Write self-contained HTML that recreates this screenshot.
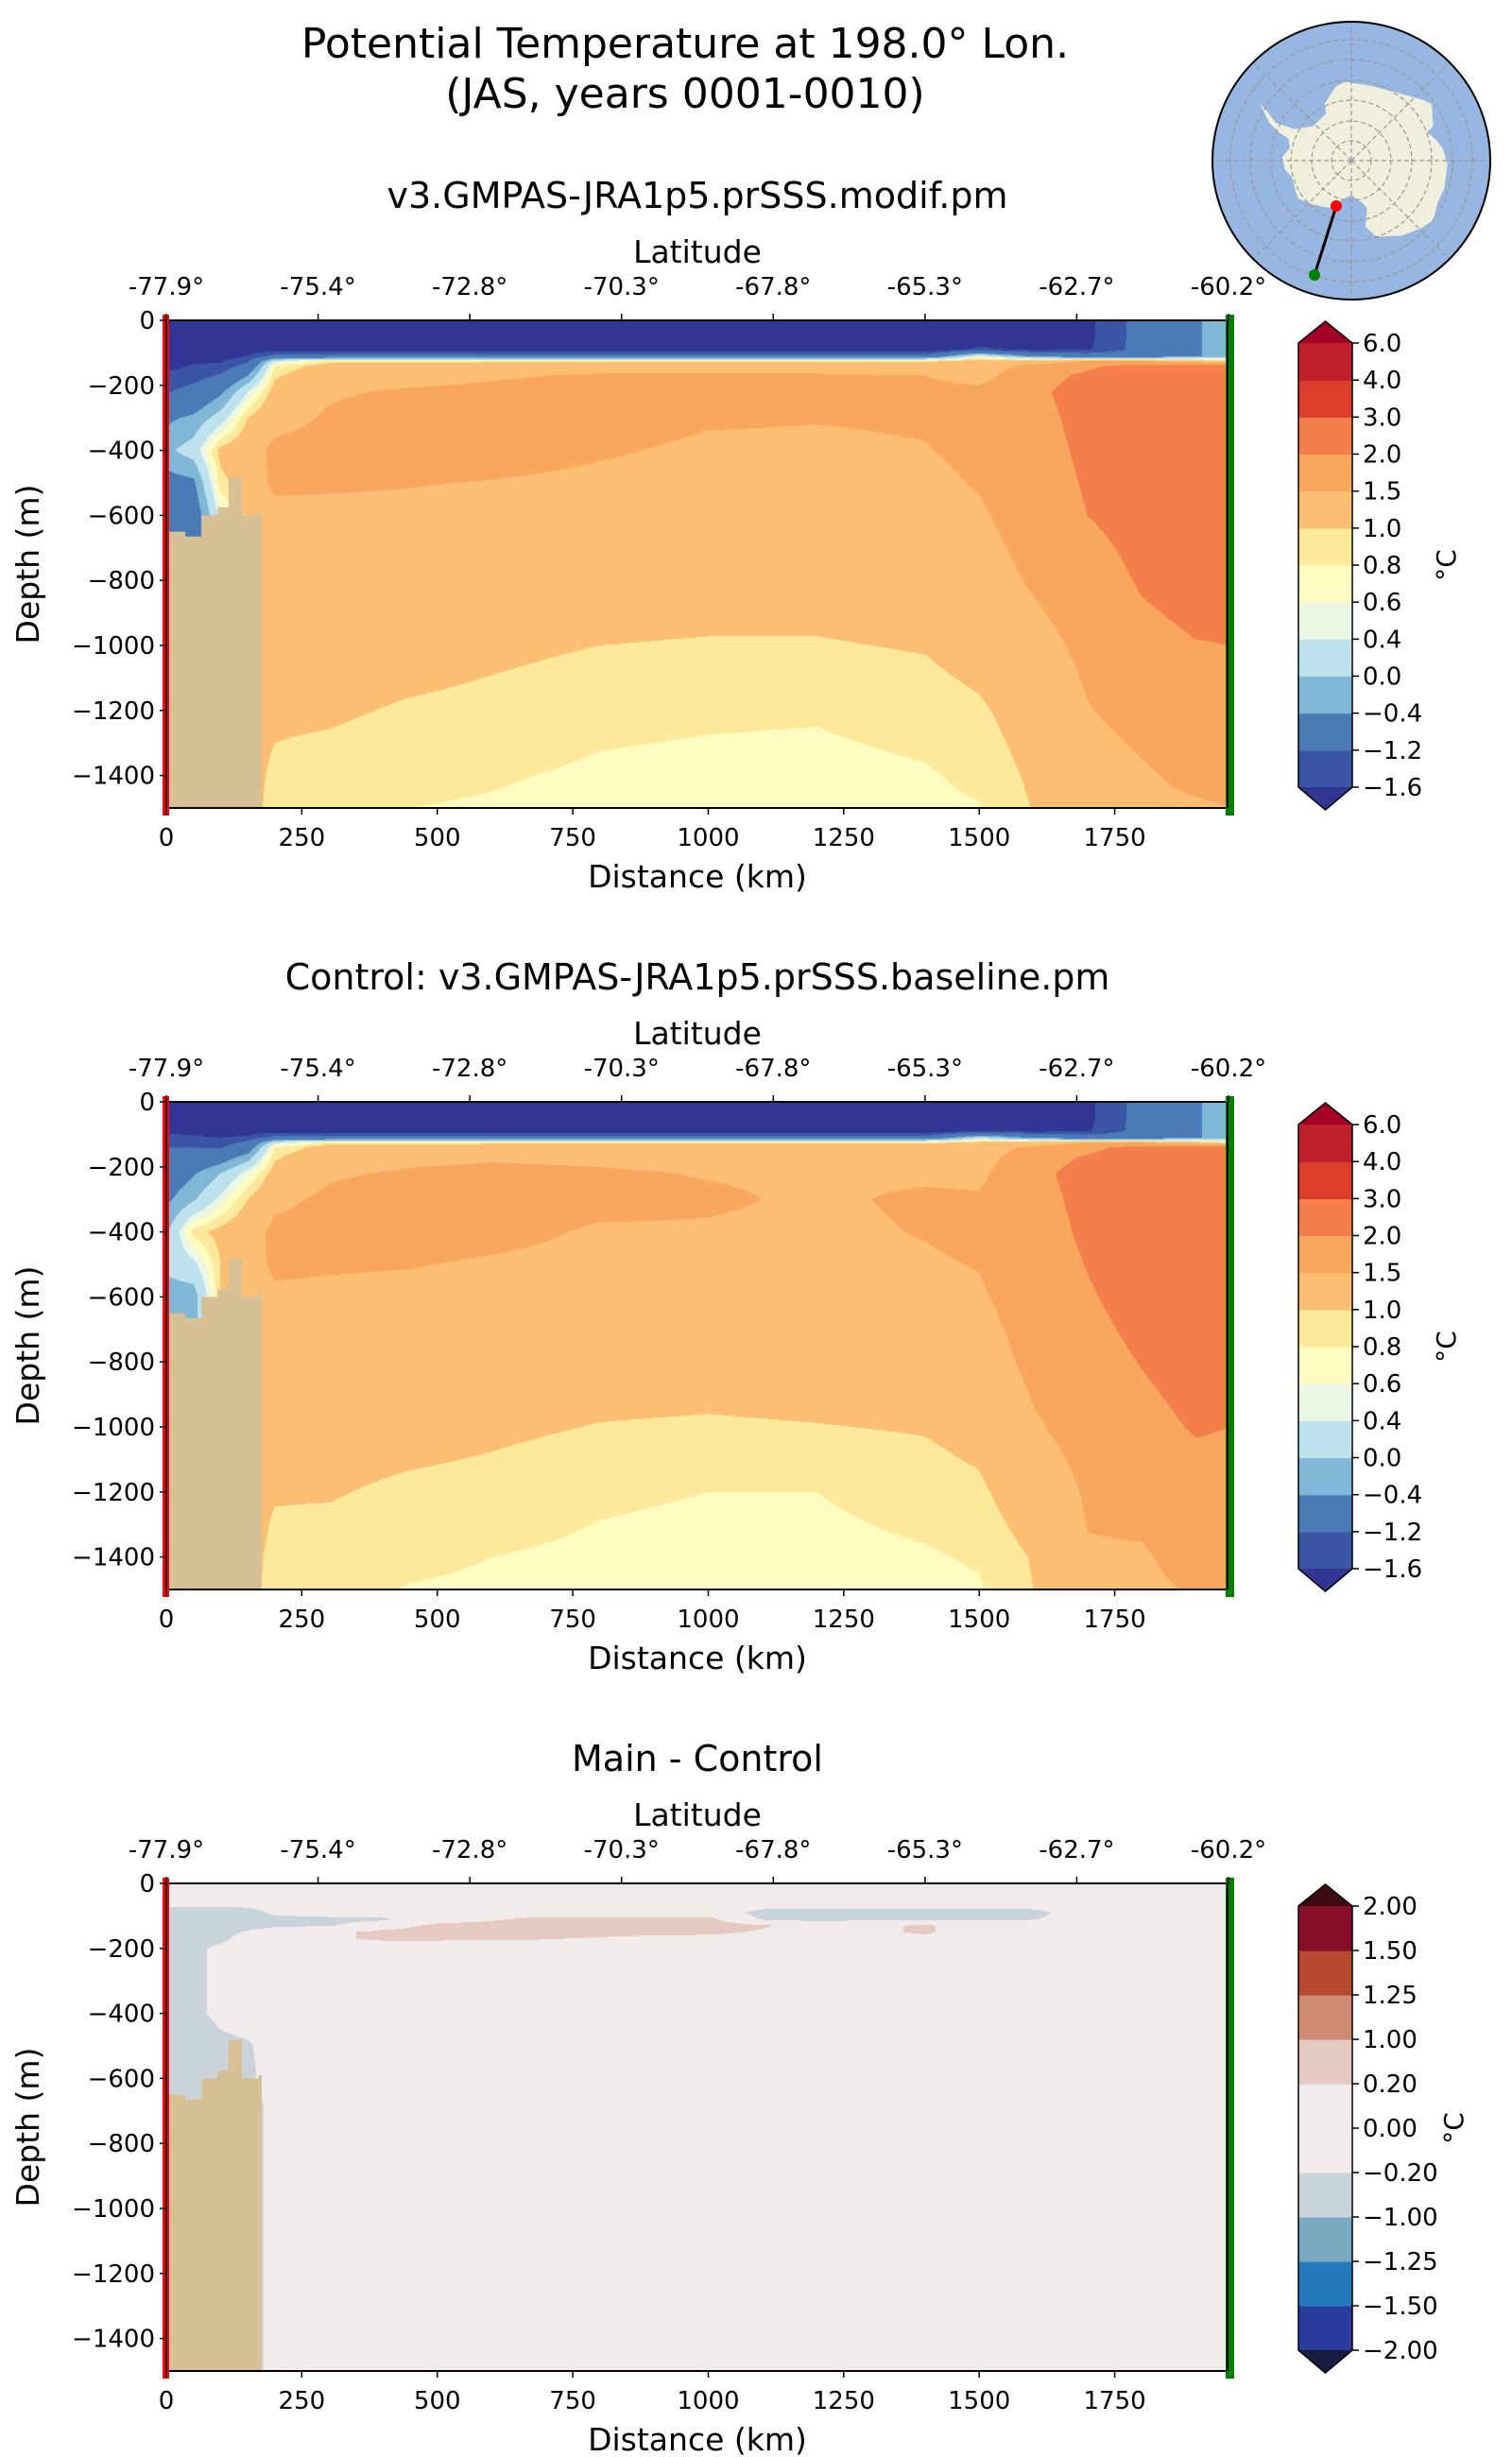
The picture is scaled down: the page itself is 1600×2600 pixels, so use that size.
<!DOCTYPE html>
<html>
<head>
<meta charset="utf-8">
<style>
html,body{margin:0;padding:0;background:#fff;}
#root{position:relative;width:1600px;height:2600px;overflow:hidden;background:#fff;}
canvas{position:absolute;}
#svg{position:absolute;left:0;top:0;}
text{font-family:"DejaVu Sans","Liberation Sans",sans-serif;fill:#000;}
</style>
</head>
<body>
<div id="root">
<canvas id="c0" width="1124" height="517" style="left:176px;top:339px"></canvas>
<canvas id="c1" width="1124" height="517" style="left:176px;top:1166px"></canvas>
<canvas id="c2" width="1124" height="517" style="left:176px;top:1993px"></canvas>
<svg id="svg" width="1600" height="2600" xmlns="http://www.w3.org/2000/svg">
<text x="725" y="61" font-size="44" text-anchor="middle">Potential Temperature at 198.0° Lon.</text>
<text x="725" y="114" font-size="44" text-anchor="middle">(JAS, years 0001-0010)</text>
<g id="mapg"></g>
</svg>
</div>
<script>
// ---- data ----
const distanceNodes = [0,50,100,150,200,300,450,600,800,1000,1200,1400,1500,1600,1700,1800,1900,1960];
const depthNodes = [0,50,90,110,125,140,170,220,300,400,500,600,800,1000,1200,1400,1500];
// temperature profiles (one per distance node, values at depthNodes), modif run
const mainTemp = [
[-2,-2,-2,-2,-1.9,-1.75,-1.5,-1.25,-0.5,-0.1,-0.6,-0.8,-0.8,-0.8,-0.8,-0.8,-0.8],
[-2,-2,-2,-1.9,-1.7,-1.55,-1.4,-1.0,-0.3,0.2,-0.5,-0.8,-0.8,-0.8,-0.8,-0.8,-0.8],
[-2,-2,-2,-1.8,-1.65,-1.5,-1.15,-0.5,0.2,1.1,0.9,0.5,0.5,0.5,0.5,0.5,0.5],
[-2,-2,-1.9,-1.6,-1.3,-1.0,-0.4,0.4,1.0,1.3,1.2,1.1,1.1,1.1,1.1,1.1,1.1],
[-2,-2,-1.8,-1.0,0.3,0.8,0.95,1.15,1.35,1.6,1.6,1.35,1.25,1.15,1.05,0.95,0.92],
[-2,-2,-1.9,-1.0,0.9,1.15,1.3,1.45,1.55,1.65,1.55,1.4,1.25,1.15,1.04,0.9,0.86],
[-2,-2,-1.9,-1.0,0.9,1.2,1.35,1.55,1.7,1.7,1.52,1.4,1.25,1.12,0.97,0.85,0.8],
[-2,-2,-1.9,-1.0,0.9,1.25,1.45,1.6,1.75,1.7,1.48,1.38,1.22,1.06,0.93,0.82,0.78],
[-2,-2,-1.9,-1.0,0.9,1.3,1.55,1.7,1.7,1.55,1.4,1.3,1.15,1.0,0.85,0.77,0.74],
[-2,-2,-1.9,-1.0,0.9,1.3,1.55,1.65,1.55,1.42,1.35,1.28,1.12,0.98,0.83,0.75,0.72],
[-2,-2,-1.9,-1.0,0.9,1.3,1.55,1.65,1.52,1.42,1.36,1.3,1.12,0.98,0.82,0.74,0.72],
[-2,-2,-1.9,-1.0,0.9,1.25,1.5,1.6,1.55,1.48,1.4,1.35,1.18,1.02,0.88,0.78,0.76],
[-2,-1.95,-1.5,0.5,1.2,1.3,1.35,1.6,1.65,1.6,1.53,1.45,1.3,1.12,0.96,0.84,0.79],
[-2,-2,-1.7,-0.5,1.2,1.6,1.8,1.9,1.85,1.8,1.75,1.7,1.55,1.35,1.15,1.05,1.01],
[-1.7,-1.7,-1.65,-0.8,1.5,1.9,2.1,2.2,2.15,2.1,2.05,2.0,1.75,1.6,1.48,1.3,1.2],
[-1.0,-1.0,-1.0,-0.8,1.5,2.2,2.4,2.5,2.45,2.4,2.3,2.2,2.05,1.85,1.65,1.45,1.4],
[-0.45,-0.45,-0.45,-0.45,1.2,2.3,2.5,2.6,2.55,2.5,2.45,2.35,2.2,1.98,1.8,1.6,1.45],
[-0.2,-0.2,-0.2,-0.2,1.0,2.3,2.6,2.7,2.65,2.55,2.5,2.4,2.2,2.0,1.8,1.6,1.5]
];
// control run
const controlTemp = [
[-2,-2,-1.65,-1.5,-1.3,-1.2,-1.0,-0.8,-0.5,-0.05,0.1,-0.2,-0.3,-0.3,-0.3,-0.3,-0.3],
[-2,-2,-1.7,-1.55,-1.4,-1.2,-0.9,-0.45,-0.05,0.9,0.3,-0.2,-0.2,-0.2,-0.2,-0.2,-0.2],
[-2,-2,-1.8,-1.6,-1.45,-1.25,-0.7,0.0,0.5,1.1,1.0,1.0,1.0,1.0,1.0,1.0,1.0],
[-2,-2,-1.85,-1.5,-1.1,-0.8,-0.2,0.55,1.0,1.3,1.25,1.1,1.1,1.1,1.1,1.1,1.1],
[-2,-2,-1.8,-1.0,0.3,0.8,0.95,1.15,1.4,1.6,1.6,1.4,1.25,1.12,1.02,0.93,0.9],
[-2,-2,-1.9,-1.0,0.9,1.15,1.3,1.45,1.58,1.65,1.55,1.4,1.25,1.12,1.02,0.9,0.86],
[-2,-2,-1.9,-1.0,0.9,1.2,1.4,1.55,1.7,1.68,1.52,1.38,1.24,1.1,0.95,0.84,0.79],
[-2,-2,-1.9,-1.0,0.9,1.25,1.45,1.6,1.72,1.62,1.45,1.36,1.2,1.05,0.92,0.8,0.77],
[-2,-2,-1.9,-1.0,0.9,1.25,1.42,1.55,1.62,1.45,1.38,1.3,1.13,0.99,0.83,0.76,0.73],
[-2,-2,-1.9,-1.0,0.9,1.25,1.38,1.48,1.55,1.46,1.38,1.3,1.12,0.97,0.8,0.74,0.72],
[-2,-2,-1.9,-1.0,0.9,1.25,1.38,1.45,1.45,1.42,1.38,1.32,1.15,0.99,0.8,0.74,0.72],
[-2,-2,-1.9,-1.0,0.9,1.25,1.38,1.45,1.55,1.52,1.45,1.38,1.2,1.02,0.88,0.78,0.75],
[-2,-1.95,-1.6,0.2,1.1,1.25,1.3,1.4,1.55,1.6,1.52,1.45,1.3,1.1,0.95,0.82,0.78],
[-2,-2,-1.7,-0.5,1.2,1.6,1.8,1.9,1.85,1.8,1.75,1.7,1.6,1.45,1.2,1.02,1.0],
[-1.7,-1.7,-1.65,-0.8,1.5,1.85,2.05,2.15,2.12,2.08,2.02,1.95,1.8,1.68,1.55,1.47,1.4],
[-1.0,-1.0,-1.0,-0.8,1.5,2.2,2.4,2.5,2.45,2.4,2.3,2.2,2.02,1.85,1.6,1.47,1.45],
[-0.45,-0.45,-0.45,-0.45,1.2,2.3,2.5,2.6,2.55,2.5,2.45,2.35,2.2,2.04,1.8,1.6,1.52],
[-0.2,-0.2,-0.2,-0.2,0.8,2.3,2.6,2.7,2.65,2.55,2.5,2.4,2.2,2.0,1.85,1.65,1.55]
];
// difference field (rows by depth)
const diffDistanceNodes = [0,50,100,150,200,300,400,500,700,900,1000,1100,1200,1400,1500,1600,1700,1960];
const diffDepthNodes = [0,60,90,110,130,150,170,200,300,400,500,600,700,1500];
const diffTemp = [
[0,0,0,0,0,0,0,0,0,0,0,0,0,0,0,0,0,0],
[0,0,0,0,0,0,0,0,0,0,0,0,0,0,0,0,0,0],
[-0.5,-0.5,-0.5,-0.4,-0.1,0,0,0,0,0,0,-0.3,-0.35,-0.35,-0.35,-0.3,0,0],
[-0.5,-0.5,-0.5,-0.45,-0.35,-0.3,-0.25,0,0.3,0.3,0.3,-0.25,-0.3,-0.25,-0.25,-0.22,0,0],
[-0.5,-0.5,-0.45,-0.35,-0.25,-0.22,0,0.3,0.35,0.35,0.35,0.25,0,0.25,0,0,0,0],
[-0.5,-0.45,-0.35,-0.15,0,0.1,0.3,0.35,0.35,0.3,0.3,0.15,0,0.25,0,0,0,0],
[-0.5,-0.4,-0.3,0,0,0.15,0.25,0.25,0.22,0.1,0.05,0,0,0.1,0,0,0,0],
[-0.5,-0.3,-0.1,0,0,0,0,0,0,0,0,0,0,0,0,0,0,0],
[-0.5,-0.3,-0.1,0,0,0,0,0,0,0,0,0,0,0,0,0,0,0],
[-0.5,-0.3,-0.1,0,0,0,0,0,0,0,0,0,0,0,0,0,0,0],
[-0.5,-0.45,-0.3,-0.25,0,0,0,0,0,0,0,0,0,0,0,0,0,0],
[-0.5,-0.5,-0.4,-0.3,0,0,0,0,0,0,0,0,0,0,0,0,0,0],
[-0.5,-0.5,-0.5,-0.5,0,0,0,0,0,0,0,0,0,0,0,0,0,0],
[-0.5,-0.5,-0.5,-0.5,0,0,0,0,0,0,0,0,0,0,0,0,0,0]
];
const tempLevels = [-1.6,-1.2,-0.4,0.0,0.4,0.6,0.8,1.0,1.5,2.0,3.0,4.0,6.0];
const tempLevelLabels = ["−1.6","−1.2","−0.4","0.0","0.4","0.6","0.8","1.0","1.5","2.0","3.0","4.0","6.0"];
const tempColors = ["#3b55a5","#4a7bb7","#80b6d6","#bde2ee","#ebf7e4","#fefcc0","#fde99c","#fbbe72","#f9a75e","#f47f4a","#dd3d2d","#be1f2a"];
const tempUnder = "#313695", tempOver = "#a50026";
const diffLevels = [-2.0,-1.5,-1.25,-1.0,-0.2,0.0,0.2,1.0,1.25,1.5,2.0];
const diffLevelLabels = ["−2.00","−1.50","−1.25","−1.00","−0.20","0.00","0.20","1.00","1.25","1.50","2.00"];
const diffColors = ["#2a3d9c","#2479bb","#78abc1","#c9d3da","#f1ebeb","#f1ebeb","#e6c9c1","#cf8c72","#b84a32","#880f2a"];
const diffUnder = "#1a1b40", diffOver = "#3f0a13";
const landX = [0,35,35,65,65,95,95,115,115,140,140,170,170,176];
const landTop = [650,650,665,665,600,600,575,575,483,483,600,600,590,590];
const distTicks = [0,250,500,750,1000,1250,1500,1750];
const depthTicks = [0,200,400,600,800,1000,1200,1400];
const depthTickLabels = ["0","−200","−400","−600","−800","−1000","−1200","−1400"];
const latTickDist = [0,280,560,840,1120,1400,1680,1960];
const latTickLabels = ["-77.9°","-75.4°","-72.8°","-70.3°","-67.8°","-65.3°","-62.7°","-60.2°"];

// ---- geometry ----
const PL=176, PR=1300, PH=516, MAXD=1960, MAXZ=1500;
const panelTops=[339,1166,1993];
function xs(km){return PL+km*(PR-PL)/MAXD;}
function ys(dep,top){return top+dep*PH/MAXZ;}
const NS="http://www.w3.org/2000/svg";
const svg=document.getElementById('svg');
function mk(tag,attrs,parent){const e=document.createElementNS(NS,tag);for(const k in attrs)e.setAttribute(k,attrs[k]);(parent||svg).appendChild(e);return e;}

function findIdx(nodes,v){let i=0;while(i<nodes.length-2&&v>nodes[i+1])i++;return i;}
function renderField(canvasId,xN,zN,get,levels,colors,under,over){
  const cv=document.getElementById(canvasId);const ctx=cv.getContext('2d');
  const w=cv.width,h=cv.height;const img=ctx.createImageData(w,h);
  const rgb=c=>[parseInt(c.substr(1,2),16),parseInt(c.substr(3,2),16),parseInt(c.substr(5,2),16)];
  const cols=colors.map(rgb),uc=rgb(under),oc=rgb(over);
  const xi=[],xw=[];
  for(let px=0;px<w;px++){const km=(px+0.5)*MAXD/(PR-PL);const i=findIdx(xN,km);xi.push(i);xw.push(Math.min(1,Math.max(0,(km-xN[i])/(xN[i+1]-xN[i]))));}
  for(let py=0;py<h;py++){
    const z=(py+0.5)*MAXZ/PH;const j=findIdx(zN,z);const t=Math.min(1,Math.max(0,(z-zN[j])/(zN[j+1]-zN[j])));
    for(let px=0;px<w;px++){
      const i=xi[px],s=xw[px];
      const v=(1-s)*(1-t)*get(i,j)+s*(1-t)*get(i+1,j)+(1-s)*t*get(i,j+1)+s*t*get(i+1,j+1);
      let c;
      if(v<levels[0])c=uc;else if(v>=levels[levels.length-1])c=oc;else{let k=0;while(k<levels.length-2&&v>=levels[k+1])k++;c=cols[k];}
      const o=(py*w+px)*4;img.data[o]=c[0];img.data[o+1]=c[1];img.data[o+2]=c[2];img.data[o+3]=255;
    }
  }
  ctx.putImageData(img,0,0);
}
renderField('c0',distanceNodes,depthNodes,(i,j)=>mainTemp[i][j],tempLevels,tempColors,tempUnder,tempOver);
renderField('c1',distanceNodes,depthNodes,(i,j)=>controlTemp[i][j],tempLevels,tempColors,tempUnder,tempOver);
renderField('c2',diffDistanceNodes,diffDepthNodes,(i,j)=>diffTemp[j][i],diffLevels,diffColors,diffUnder,diffOver);

const subtitles=["v3.GMPAS-JRA1p5.prSSS.modif.pm","Control: v3.GMPAS-JRA1p5.prSSS.baseline.pm","Main - Control"];
panelTops.forEach((top,p)=>{
  const off=top-339;
  const g=mk('g',{});
  
  
  let d='M'+xs(landX[0])+','+ys(MAXZ,top);
  for(let k=0;k<landX.length;k++)d+=' L'+xs(landX[k])+','+ys(landTop[k],top);
  d+=' L'+xs(landX[landX.length-1])+','+ys(MAXZ,top)+' Z';
  const land=mk('path',{d:d,fill:'#d7bf96'},g);
  
  
  const sp=mk('rect',{x:PL,y:top,width:PR-PL,height:PH,fill:'none',stroke:'#000','stroke-width':2},g);
  
  
  const rl=mk('rect',{x:PL-4,y:top-6,width:7,height:PH+14,fill:'#ff0000'},g);
  
  
  mk('line',{x1:PL,y1:top,x2:PL,y2:top+PH,stroke:'#000','stroke-width':2},g);
  const gl=mk('rect',{x:PR-3,y:top-6,width:9,height:PH+14,fill:'#008000'},g);
  
  
  mk('line',{x1:PR-1,y1:top,x2:PR-1,y2:top+PH,stroke:'#000','stroke-width':2},g);
  const st=mk('text',{x:738,y:220+off,'font-size':38,'text-anchor':'middle'},g);
  st.textContent=subtitles[p];
  
  
  depthTicks.forEach((dv,k)=>{
    const y=ys(dv,top);
    mk('line',{x1:PL-7,y1:y,x2:PL,y2:y,stroke:'#000','stroke-width':1.5},g);
    const t=mk('text',{x:PL-12,y:y+9,'font-size':26,'text-anchor':'end'},g);
    t.textContent=depthTickLabels[k];
    
    
  });
  distTicks.forEach(v=>{
    const x=xs(v);
    mk('line',{x1:x,y1:top+PH,x2:x,y2:top+PH+7,stroke:'#000','stroke-width':1.5},g);
    const t=mk('text',{x:x,y:top+PH+40,'font-size':26,'text-anchor':'middle'},g);
    t.textContent=String(v);
    
    
  });
  latTickDist.forEach((v,k)=>{
    const x=xs(v);
    mk('line',{x1:x,y1:top-7,x2:x,y2:top,stroke:'#000','stroke-width':1.5},g);
    const t=mk('text',{x:x,y:top-27,'font-size':26,'text-anchor':'middle'},g);
    t.textContent=latTickLabels[k];
    
    
  });
  const lt=mk('text',{x:738,y:top-61,'font-size':33,'text-anchor':'middle'},g);
  lt.textContent='Latitude';
  
  
  const xt=mk('text',{x:738,y:top+PH+84,'font-size':33,'text-anchor':'middle'},g);
  xt.textContent='Distance (km)';
  
  
  const yt=mk('text',{x:0,y:0,'font-size':33,'text-anchor':'middle',transform:'translate(41,'+(top+PH/2)+') rotate(-90)'},g);
  yt.textContent='Depth (m)';
  
  
  const isDiff=p===2;
  const lv=isDiff?diffLevels:tempLevels, cl=isDiff?diffColors:tempColors, lb=isDiff?diffLevelLabels:tempLevelLabels;
  const cb=mk('g',{},g);
  
  
  const cx0=1374,cx1=1431,by0=top+24,by1=top+494,n=cl.length,bh=(by1-by0)/n;
  cl.forEach((c,k)=>{
    const r=mk('rect',{x:cx0,y:by1-(k+1)*bh,width:cx1-cx0,height:bh+0.6,fill:c},cb);
    
    
  });
  mk('polygon',{points:cx0+','+by0+' '+cx1+','+by0+' '+((cx0+cx1)/2)+','+(top+1),fill:isDiff?diffOver:tempOver},cb);
  mk('polygon',{points:cx0+','+by1+' '+cx1+','+by1+' '+((cx0+cx1)/2)+','+(top+518),fill:isDiff?diffUnder:tempUnder},cb);
  mk('polygon',{points:cx0+','+by0+' '+((cx0+cx1)/2)+','+(top+1)+' '+cx1+','+by0+' '+cx1+','+by1+' '+((cx0+cx1)/2)+','+(top+518)+' '+cx0+','+by1,fill:'none',stroke:'#000','stroke-width':1.5},cb);
  lv.forEach((v,k)=>{
    const y=by1-k*bh;
    mk('line',{x1:cx1,y1:y,x2:cx1+7,y2:y,stroke:'#000','stroke-width':1.5},cb);
    const t=mk('text',{x:cx1+11,y:y+9,'font-size':26},cb);
    t.textContent=lb[k];
    
    
  });
  const ut=mk('text',{x:0,y:0,'font-size':28,'text-anchor':'middle',transform:'translate('+(isDiff?1548:1540)+','+(top+259)+') rotate(-90)'},cb);
  ut.textContent='°C';
  
  
});

// ---- inset map ----
const mg=document.getElementById('mapg');
const MCX=1430,MCY=170,MR=147;
mk('circle',{cx:MCX,cy:MCY,r:MR,fill:'#97b6e1'},mg);
const antarcticaOutline=[[490,275],[520,260],[600,272],[690,295],[770,318],[795,330],[800,400],[780,420],[805,440],[830,470],[845,520],[835,600],[815,640],[800,700],[760,725],[700,748],[620,752],[585,720],[590,660],[570,640],[540,620],[500,640],[470,660],[420,650],[370,630],[350,560],[330,540],[320,500],[345,470],[340,440],[310,420],[280,390],[250,330],[240,320],[270,350],[300,390],[360,410],[420,400],[460,360],[455,330]];
const ant=mk('polygon',{points:antarcticaOutline.map(p=>(p[0]/3+1250)+','+(p[1]/3)).join(' '),fill:'#efefdb'},mg);


[21,42,64,85,107,128].forEach(r=>mk('circle',{cx:MCX,cy:MCY,r:r,fill:'none',stroke:'#999','stroke-width':1.2,'stroke-dasharray':'5,3'},mg));
for(let a=0;a<8;a++){const ang=a*Math.PI/4;mk('line',{x1:MCX,y1:MCY,x2:MCX+MR*Math.cos(ang),y2:MCY+MR*Math.sin(ang),stroke:'#999','stroke-width':1.2,'stroke-dasharray':'5,3'},mg);}
mk('circle',{cx:MCX,cy:MCY,r:MR,fill:'none',stroke:'#000','stroke-width':2},mg);
mk('line',{x1:1414,y1:218,x2:1391,y2:291,stroke:'#000','stroke-width':3},mg);
const rd=mk('circle',{cx:1414,cy:218,r:6,fill:'#ff0000'},mg);


const gd=mk('circle',{cx:1391,cy:291,r:6,fill:'#008000'},mg);


</script>
</body>
</html>
